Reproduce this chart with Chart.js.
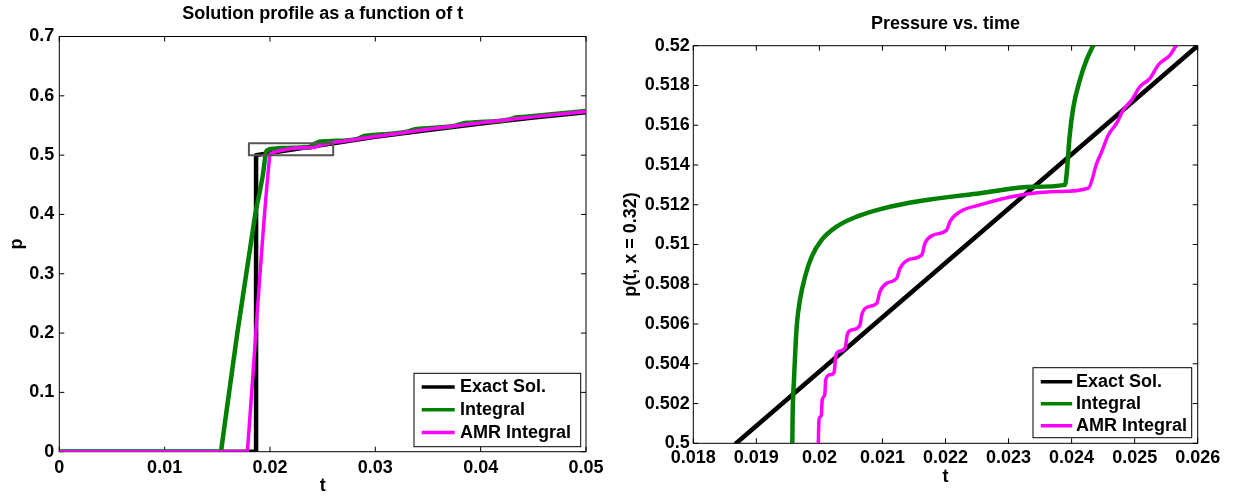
<!DOCTYPE html>
<html>
<head>
<meta charset="utf-8">
<title>Solution profile / Pressure vs. time</title>
<script src="https://cdn.jsdelivr.net/npm/chart.js@4.4.1/dist/chart.umd.min.js"></script>
<style>
  html, body { margin: 0; padding: 0; background: #fff; }
  #wrap { position: relative; width: 1234px; height: 497px; }
  #wrap canvas { position: absolute; top: 0; }
  #profileChart { left: 0; }
  #pressureChart { left: 617px; }
</style>
</head>
<body>
<div id="wrap">
  <canvas id="profileChart" width="617" height="497"></canvas>
  <canvas id="pressureChart" width="617" height="497"></canvas>
</div>
<script>
// Exact solution p(t) at x = 0.32
const exactT = [0, 0.01868, 0.01868, 0.026, 0.03, 0.035, 0.04, 0.045, 0.05];
const exactP = [0, 0, 0.5, 0.52, 0.531, 0.5425, 0.5535, 0.5635, 0.5725];

// Integral method
const integralT = [0, 0.01535, 0.0154, 0.0169, 0.0186, 0.01957, 0.019576, 0.019597, 0.01964, 0.019692,
  0.019772, 0.019878, 0.020036, 0.020274, 0.020592, 0.021014, 0.021596, 0.022547, 0.023393, 0.023895,
  0.023932, 0.023964, 0.024027, 0.024133, 0.024239, 0.024355, 0.0247, 0.0255, 0.0283, 0.0289,
  0.0295, 0.033, 0.0337, 0.0345, 0.0377, 0.0383, 0.039, 0.0427, 0.0433, 0.044, 0.05];
const integralP = [0, 0, 0.0065, 0.2, 0.4, 0.5, 0.5015, 0.5032, 0.50587, 0.50721,
  0.50838, 0.50939, 0.51023, 0.5109, 0.5114, 0.51182, 0.51219, 0.51258, 0.5129, 0.513,
  0.5139, 0.5153, 0.5169, 0.5183, 0.5193, 0.5201, 0.5225, 0.5235, 0.5275, 0.532,
  0.5335, 0.5395, 0.5435, 0.545, 0.55, 0.5535, 0.5548, 0.56, 0.5635, 0.5645, 0.5745];

// AMR integral method
const amrT = [0, 0.01785, 0.0179, 0.019983, 0.019995, 0.02003, 0.020045, 0.020085, 0.0201, 0.02017,
  0.020232, 0.02026, 0.020305, 0.020406, 0.020445, 0.020512, 0.020644, 0.020671, 0.020776, 0.020909,
  0.020961, 0.021067, 0.021226, 0.021279, 0.021437, 0.021623, 0.021675, 0.021807, 0.022019, 0.022071,
  0.02223, 0.022547, 0.02313, 0.023764, 0.024265, 0.024398, 0.024478, 0.024582, 0.024715, 0.02482,
  0.024953, 0.025085, 0.025243, 0.025375, 0.025561, 0.025667, 0.027, 0.03, 0.035, 0.04, 0.045, 0.05];
const amrP = [0, 0, 0.0117, 0.5, 0.5012, 0.5014, 0.5022, 0.50245, 0.5032, 0.50345,
  0.50355, 0.5044, 0.50462, 0.50478, 0.5055, 0.5057, 0.50595, 0.50645, 0.50687, 0.50704,
  0.50763, 0.50805, 0.5083, 0.5088, 0.50926, 0.50947, 0.51006, 0.51048, 0.51073, 0.51115,
  0.51165, 0.51199, 0.51245, 0.51266, 0.51283, 0.51408, 0.51467, 0.51551, 0.5161, 0.51677,
  0.51727, 0.51794, 0.51836, 0.51903, 0.51953, 0.52003, 0.5235, 0.5315, 0.5435, 0.5545, 0.5645, 0.5735];

// zoom window marked on the left plot
const zoomBoxT = [0.018, 0.026, 0.026, 0.018, 0.018];
const zoomBoxP = [0.5, 0.5, 0.52, 0.52, 0.5];

// tick values and labels
const profileTTicks = [0, 0.01, 0.02, 0.03, 0.04, 0.05];
const profileTLabels = ["0", "0.01", "0.02", "0.03", "0.04", "0.05"];
const profilePTicks = [0, 0.1, 0.2, 0.3, 0.4, 0.5, 0.6, 0.7];
const profilePLabels = ["0", "0.1", "0.2", "0.3", "0.4", "0.5", "0.6", "0.7"];
const pressureTTicks = [0.018, 0.019, 0.02, 0.021, 0.022, 0.023, 0.024, 0.025, 0.026];
const pressureTLabels = ["0.018", "0.019", "0.02", "0.021", "0.022", "0.023", "0.024", "0.025", "0.026"];
const pressurePTicks = [0.5, 0.502, 0.504, 0.506, 0.508, 0.51, 0.512, 0.514, 0.516, 0.518, 0.52];
const pressurePLabels = ["0.5", "0.502", "0.504", "0.506", "0.508", "0.51", "0.512", "0.514", "0.516", "0.518", "0.52"];

const FONT = "'Liberation Sans', Arial, Helvetica, sans-serif";
Chart.defaults.font.family = FONT;
Chart.defaults.font.size = 18;
Chart.defaults.font.weight = "bold";
Chart.defaults.color = "#000";

const toPoints = (ts, ps) => ts.map((t, i) => ({ x: t, y: ps[i] }));

function seriesDatasets(clip) {
  return [
    { label: "Exact Sol.", data: toPoints(exactT, exactP), borderColor: "#000000", borderWidth: 4.5, order: 3, clip },
    { label: "Integral", data: toPoints(integralT, integralP), borderColor: "#008000", borderWidth: 4.5, order: 2,
      cubicInterpolationMode: "monotone", clip },
    { label: "AMR Integral", data: toPoints(amrT, amrP), borderColor: "#ff00ff", borderWidth: 3.5, order: 1,
      cubicInterpolationMode: "monotone", clip },
  ];
}

// Matlab style frame with inward ticks on all four sides
const axesBox = {
  id: "axesBox",
  beforeDatasetsDraw(chart) {
    const { ctx, chartArea: a, scales } = chart;
    ctx.save();
    ctx.strokeStyle = "#000";
    ctx.lineWidth = 1;
    ctx.beginPath();
    scales.x.ticks.forEach(tk => {
      const px = scales.x.getPixelForValue(tk.value);
      ctx.moveTo(px, a.bottom); ctx.lineTo(px, a.bottom - 5);
      ctx.moveTo(px, a.top); ctx.lineTo(px, a.top + 5);
    });
    scales.y.ticks.forEach(tk => {
      const py = scales.y.getPixelForValue(tk.value);
      ctx.moveTo(a.left, py); ctx.lineTo(a.left + 5, py);
      ctx.moveTo(a.right, py); ctx.lineTo(a.right - 5, py);
    });
    ctx.stroke();
    ctx.strokeRect(a.left, a.top, a.right - a.left, a.bottom - a.top);
    ctx.restore();
  }
};

// legend box in the lower right corner of the axes
const boxLegend = {
  id: "boxLegend",
  afterDatasetsDraw(chart, args, opts) {
    const { ctx, chartArea: a } = chart;
    const x0 = a.right - opts.insetRight - opts.width;
    const y0 = a.bottom - opts.insetBottom - opts.height;
    ctx.save();
    ctx.fillStyle = "#fff";
    ctx.fillRect(x0, y0, opts.width, opts.height);
    ctx.strokeStyle = "#000";
    ctx.lineWidth = 1;
    ctx.strokeRect(x0, y0, opts.width, opts.height);
    ctx.font = "bold 18px " + FONT;
    ctx.textBaseline = "middle";
    chart.data.datasets.filter(ds => ds.label).forEach((ds, i) => {
      const y = y0 + opts.firstRow + i * opts.rowHeight;
      ctx.strokeStyle = ds.borderColor;
      ctx.lineWidth = 3.5;
      ctx.beginPath();
      ctx.moveTo(x0 + opts.sampleStart, y);
      ctx.lineTo(x0 + opts.sampleStart + opts.sampleLength, y);
      ctx.stroke();
      ctx.fillStyle = "#000";
      ctx.fillText(ds.label, x0 + opts.textStart, y);
    });
    ctx.restore();
  }
};

function axis(min, max, ticks, labels, size, pad, title, titlePad, isX) {
  return {
    type: "linear",
    min, max,
    afterBuildTicks: s => { s.ticks = ticks.map(v => ({ value: v })); },
    afterFit: s => { if (isX) s.height = size; else s.width = size; },
    grid: { display: false, drawTicks: false },
    border: { display: false },
    ticks: { padding: pad, maxRotation: 0, autoSkip: false, callback: (v, i) => labels[i] },
    title: { display: true, text: title, padding: titlePad }
  };
}

// Left: full solution profile
new Chart(document.getElementById("profileChart"), {
  type: "line",
  data: {
    datasets: [
      ...seriesDatasets(undefined),
      { label: "", data: toPoints(zoomBoxT, zoomBoxP), borderColor: "#555555", borderWidth: 2, order: 0 },
    ]
  },
  options: {
    responsive: false,
    animation: false,
    layout: { padding: { left: 0, right: 31, top: 0, bottom: 0 } },
    elements: { point: { radius: 0 }, line: { tension: 0, borderJoinStyle: "round" } },
    plugins: {
      legend: { display: false },
      tooltip: { enabled: false },
      title: { display: true, fullSize: false, text: "Solution profile as a function of t", color: "#000",
        font: { size: 18, weight: "bold" }, padding: { top: 3.7, bottom: 11.2 } },
      boxLegend: { insetRight: 5.3, insetBottom: 5, width: 166.7, height: 73.4, firstRow: 13.7, rowHeight: 22.8,
        sampleStart: 7.7, sampleLength: 33, textStart: 46 }
    },
    scales: {
      x: axis(0, 0.05, profileTTicks, profileTLabels, 45.3, 5.5, "t", { top: 0, bottom: 0 }, true),
      y: axis(0, 0.7, profilePTicks, profilePLabels, 59.3, 5, "p", { top: 6.5, bottom: 0 }, false)
    }
  },
  plugins: [axesBox, boxLegend]
});

// Right: zoom on the pressure near the front
new Chart(document.getElementById("pressureChart"), {
  type: "line",
  data: { datasets: seriesDatasets(0) },
  options: {
    responsive: false,
    animation: false,
    layout: { padding: { left: 0, right: 36.3, top: 0, bottom: 0 } },
    elements: { point: { radius: 0 }, line: { tension: 0, borderJoinStyle: "round" } },
    plugins: {
      legend: { display: false },
      tooltip: { enabled: false },
      title: { display: true, fullSize: false, text: "Pressure vs. time", color: "#000",
        font: { size: 18, weight: "bold" }, padding: { top: 13.7, bottom: 10.4 } },
      boxLegend: { insetRight: 6, insetBottom: 5.6, width: 158.7, height: 70, firstRow: 14, rowHeight: 22,
        sampleStart: 7.8, sampleLength: 31.4, textStart: 43 }
    },
    scales: {
      x: axis(0.018, 0.026, pressureTTicks, pressureTLabels, 53.7, 3.7, "t", { top: 0, bottom: 9.2 }, true),
      y: axis(0.5, 0.52, pressurePTicks, pressurePLabels, 76.3, 3.5, "p(t, x = 0.32)", { top: 3, bottom: 0 }, false)
    }
  },
  plugins: [axesBox, boxLegend]
});
</script>
</body>
</html>
